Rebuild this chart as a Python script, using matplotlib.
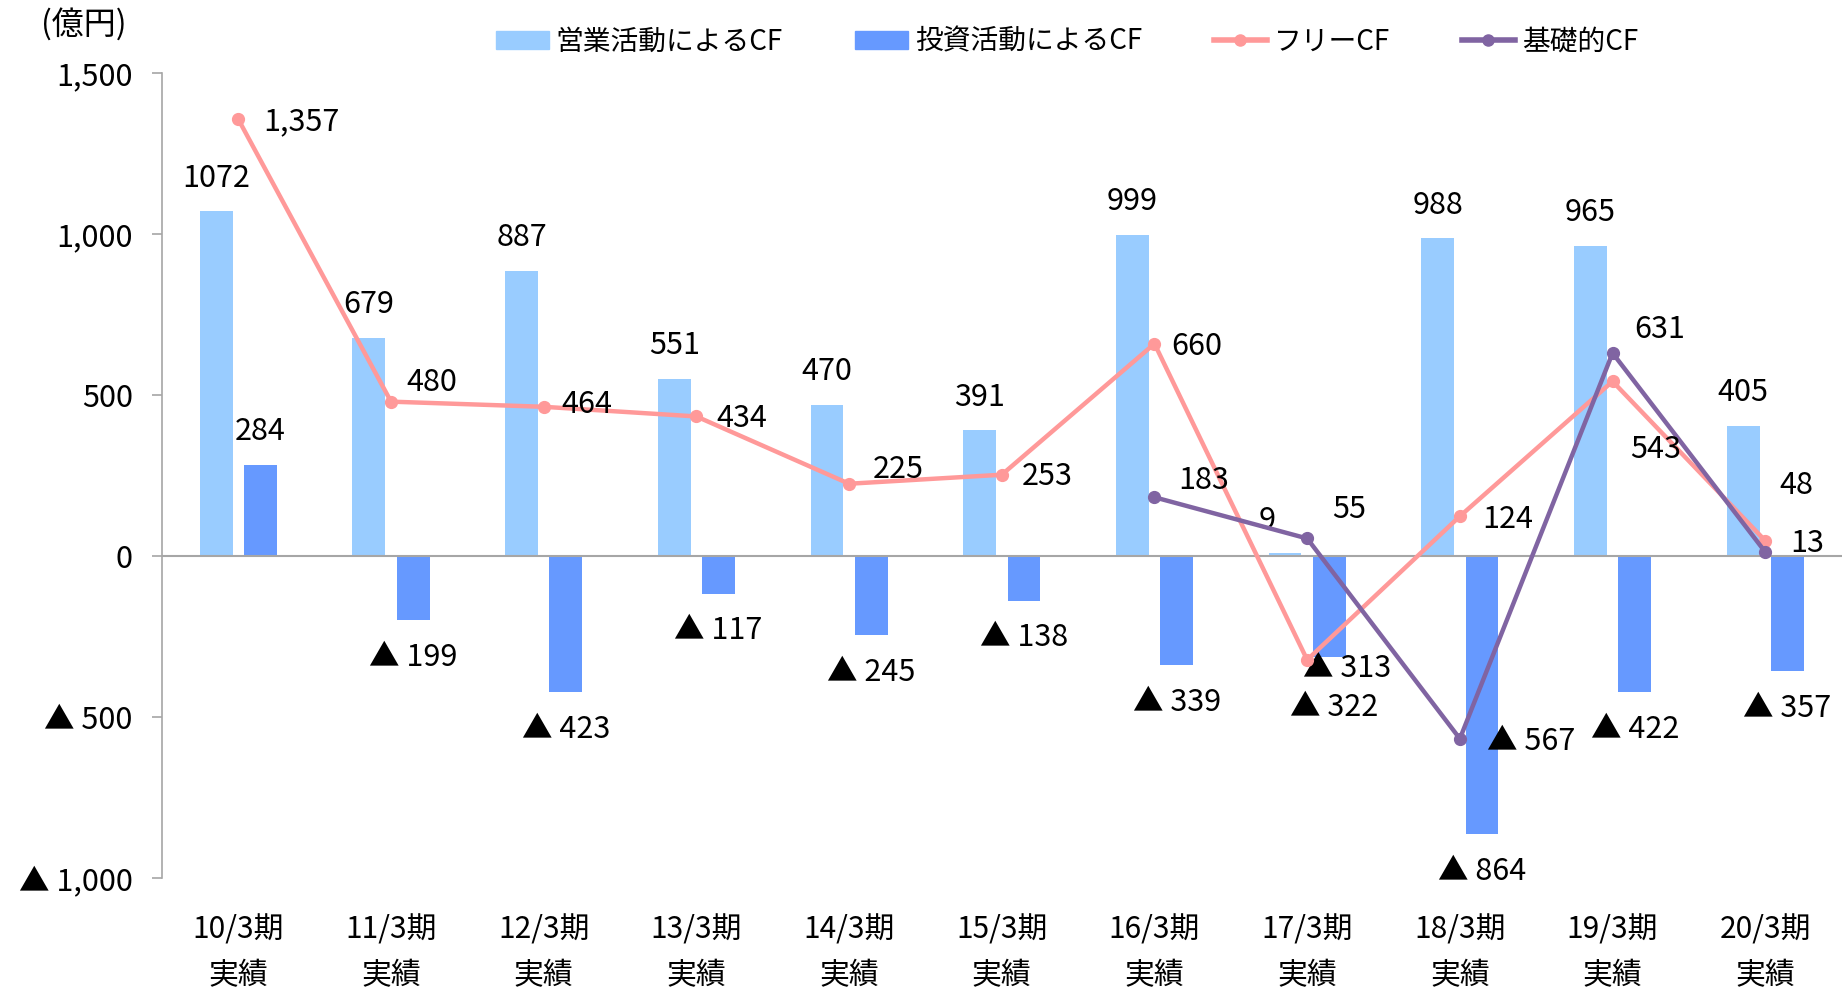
import matplotlib
matplotlib.use('Agg')
import matplotlib.pyplot as plt
import numpy as np
from matplotlib.lines import Line2D
from matplotlib.patches import Patch

plt.rcParams['font.family'] = ['Noto Sans CJK JP', 'DejaVu Sans']

# 期別キャッシュフロー (億円)
periods = ['10/3期', '11/3期', '12/3期', '13/3期', '14/3期', '15/3期',
           '16/3期', '17/3期', '18/3期', '19/3期', '20/3期']
operating_cf = [1072, 679, 887, 551, 470, 391, 999, 9, 988, 965, 405]
investing_cf = [284, -199, -423, -117, -245, -138, -339, -313, -864, -422, -357]
free_cf = [1357, 480, 464, 434, 225, 253, 660, -322, 124, 543, 48]
basic_cf = [None, None, None, None, None, None, 183, 55, -567, 631, 13]

c_op = '#99CCFF'
c_inv = '#6699FF'
c_free = '#FF9999'
c_basic = '#8064A2'
fs = 20       # legend
fs_num = 22   # numbers / data labels


def fmt(v, comma=True):
    s = f'{abs(v):,}' if comma else str(abs(v))
    return '▲ ' + s if v < 0 else s


fig = plt.figure(figsize=(18.49, 9.9), dpi=100)
ax = fig.add_axes([0.0876, 0.113, 0.9084, 0.813])

x = np.arange(len(periods))
width = 0.215
off = 0.145

ax.bar(x - off, operating_cf, width, color=c_op, zorder=2)
ax.bar(x + off, investing_cf, width, color=c_inv, zorder=2)
ax.axhline(0, color='#A6A6A6', lw=1.5, zorder=3)

ax.plot(x, free_cf, color=c_free, lw=3.2, marker='o', ms=8.5, zorder=4)
bx = [i for i, v in enumerate(basic_cf) if v is not None]
bv = [v for v in basic_cf if v is not None]
ax.plot(bx, bv, color=c_basic, lw=3.2, marker='o', ms=8.5, zorder=5)

# bar labels
for i, v in enumerate(operating_cf):
    dx = -18 if i == 7 else 0
    ax.annotate(fmt(v, comma=False), (x[i] - off, v), xytext=(dx, 33),
                textcoords='offset pixels', ha='center', va='center', fontsize=fs_num)
for i, v in enumerate(investing_cf):
    if v >= 0:
        dx, dy = 0, 33
    elif i == 7:
        dx, dy = 18, -12
    else:
        dx, dy = 0, -37
    ax.annotate(fmt(v), (x[i] + off, v), xytext=(dx, dy),
                textcoords='offset pixels', ha='center', va='center', fontsize=fs_num)

# line labels
free_off = [(25, -2), (15, 19), (18, 2), (20, -2), (24, 14), (20, -2),
            (17, -3), (-17, -48), (22, -3), (18, -68), (14, 55)]
for i, v in enumerate(free_cf):
    ax.annotate(fmt(v), (x[i], v), xytext=free_off[i],
                textcoords='offset pixels', ha='left', va='center', fontsize=fs_num, zorder=6)
basic_off = [(24, 17), (25, 29), (27, -3), (22, 24), (25, 8)]
for (i, v), o in zip(zip(bx, bv), basic_off):
    ax.annotate(fmt(v), (i, v), xytext=o,
                textcoords='offset pixels', ha='left', va='center', fontsize=fs_num, zorder=6)

ax.set_xlim(-0.5, len(periods) - 0.5)
ax.set_ylim(-1000, 1500)
yt = [-1000, -500, 0, 500, 1000, 1500]
ax.set_yticks(yt)
ax.set_yticklabels([fmt(v) for v in yt], fontsize=fs_num)
ax.set_xticks(x)
ax.set_xticklabels([p + '\n実績' for p in periods], fontsize=21.5, linespacing=1.6)
ax.tick_params(axis='x', length=0, pad=26)
ax.tick_params(axis='y', length=7, width=1.2, color='#A6A6A6', pad=14)

for s in ['top', 'right', 'bottom']:
    ax.spines[s].set_visible(False)
ax.spines['left'].set_color('#A6A6A6')
ax.spines['left'].set_linewidth(1.2)

fig.text(0.022, 0.976, '(億円)', fontsize=23, ha='left', va='center')

handles = [
    Patch(color=c_op, label='営業活動によるCF'),
    Patch(color=c_inv, label='投資活動によるCF'),
    Line2D([], [], color=c_free, lw=4, marker='o', ms=8, label='フリーCF'),
    Line2D([], [], color=c_basic, lw=4, marker='o', ms=8, label='基礎的CF'),
]
fig.legend(handles=handles, loc='center', bbox_to_anchor=(0.577, 0.958), ncol=4,
           frameon=False, fontsize=fs, handlelength=1.9, handleheight=0.6,
           handletextpad=0.25, columnspacing=2.6)

fig.savefig('out.png', dpi=100)
